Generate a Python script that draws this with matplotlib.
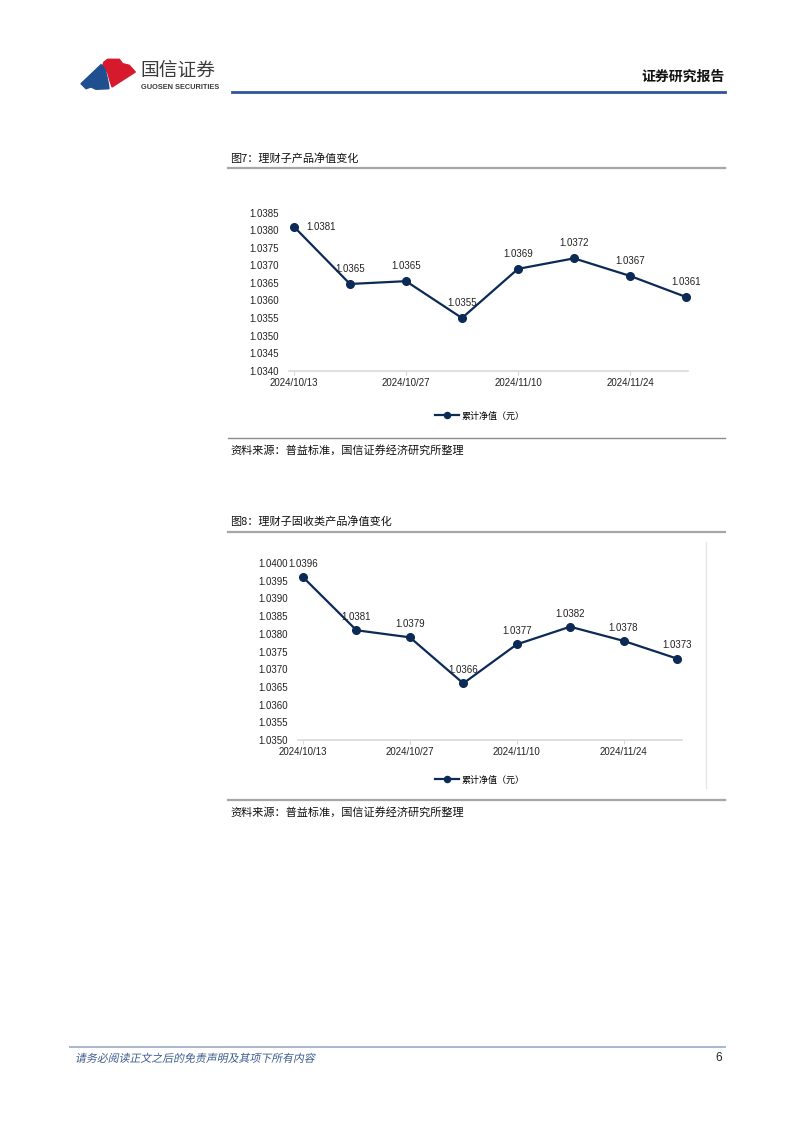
import matplotlib
matplotlib.use("Agg")
import matplotlib.pyplot as plt
from matplotlib.lines import Line2D
from matplotlib.patches import Polygon, PathPatch
from matplotlib.textpath import TextPath
from matplotlib.font_manager import FontProperties
from matplotlib.transforms import Affine2D

plt.rcParams['font.family'] = ['Liberation Sans', 'Noto Sans CJK SC', 'DejaVu Sans']

# data
dates = ["2024/10/13", "2024/10/20", "2024/10/27", "2024/11/03",
         "2024/11/10", "2024/11/17", "2024/11/24", "2024/12/01"]
nav_all = [1.0381, 1.03647, 1.03655, 1.0355, 1.0369, 1.0372, 1.0367, 1.0361]
nav_all_labels = ["1.0381", "1.0365", "1.0365", "1.0355", "1.0369", "1.0372", "1.0367", "1.0361"]
nav_fixed = [1.0396, 1.0381, 1.0379, 1.0366, 1.0377, 1.0382, 1.0378, 1.0373]
nav_fixed_labels = ["1.0396", "1.0381", "1.0379", "1.0366", "1.0377", "1.0382", "1.0378", "1.0373"]
series_name = "累计净值（元）"
title1 = "图7：理财子产品净值变化"
title2 = "图8：理财子固收类产品净值变化"
source = "资料来源：普益标准，国信证券经济研究所整理"
disclaimer = "请务必阅读正文之后的免责声明及其项下所有内容"

W, H = 802, 1133
LINE_COLOR = "#0c2a56"
CJK = ['Noto Sans CJK SC', 'DejaVu Sans']

fig = plt.figure(figsize=(W / 100, H / 100), dpi=100)


def px(x, y):
    # pixel coords (y down) -> figure fraction
    return x / W, 1 - y / H


def hline(x0, x1, y, color, lw):
    a, b = px(x0, y)
    c, _ = px(x1, y)
    fig.add_artist(Line2D([a, c], [b, b], color=color, lw=lw, transform=fig.transFigure))


def text(x, y, s, **kw):
    fx, fy = px(x, y)
    fig.text(fx, fy, s, **kw)


def draw_chart(box, xlim, ylim, yticks, values, labels, legend_y, first_right, label_off):
    x0, x1, ytop, ybot = box
    l, b = px(x0, ybot)
    r, t = px(x1, ytop)
    ax = fig.add_axes([l, b, r - l, t - b])
    xs = list(range(len(values)))
    ax.plot(xs, values, color=LINE_COLOR, lw=1.6, marker='o', markersize=5.5,
            label=series_name, clip_on=False, zorder=3)
    for i, (v, s) in enumerate(zip(values, labels)):
        if i == 0 and first_right:
            ax.annotate(s, (i, v), xytext=(9, 0), textcoords='offset points',
                        ha='left', va='center', fontsize=7, color='#222222')
        else:
            ax.annotate(s, (i, v), xytext=(0, label_off), textcoords='offset points',
                        ha='center', va='center', fontsize=7, color='#222222')
    ax.set_xlim(*xlim)
    ax.set_ylim(*ylim)
    ax.set_yticks(yticks)
    ax.set_yticklabels([f"{v:.4f}" for v in yticks])
    ax.set_xticks(xs[::2])
    ax.set_xticklabels(dates[::2])
    for side in ['top', 'right', 'left']:
        ax.spines[side].set_visible(False)
    ax.spines['bottom'].set_color('#d9d9d9')
    ax.spines['bottom'].set_linewidth(1.2)
    ax.tick_params(axis='y', length=0, pad=7, labelsize=7, labelcolor='#222222')
    ax.tick_params(axis='x', length=3, color='#d9d9d9', pad=2, labelsize=7, labelcolor='#222222')
    ax.patch.set_alpha(0)
    lx, ly = px(480, legend_y)
    ax.legend(loc='center', bbox_to_anchor=(lx, ly), bbox_transform=fig.transFigure,
              frameon=False, prop={'family': CJK, 'size': 6.5}, handlelength=2.6,
              handletextpad=0.3, markerscale=0.8)
    return ax


# header logo
red = [(104, 62), (107.7, 59.3), (119.3, 59.3), (122.7, 63.7), (129.3, 65.3), (135.3, 72),
       (112, 87), (109.8, 80.3), (108, 73.7), (105.5, 68.7), (102.7, 65.3)]
blue = [(81, 83.7), (101, 64.7), (103.5, 67), (105.3, 70.3), (107, 77), (108.3, 83.7),
        (109, 88.7), (96, 89.3), (91, 87), (86, 88.7)]
fig.add_artist(Polygon([px(*p) for p in red], closed=True, color='#d7192e', transform=fig.transFigure))
fig.add_artist(Polygon([px(*p) for p in blue], closed=True, color='#1f4f8f', transform=fig.transFigure))
text(140, 70, "国信证券", family=CJK, fontsize=13.5, color='#3a3a3a', va='center', ha='left')
text(141, 87.5, "GUOSEN SECURITIES", fontsize=5.3, color='#3a3a3a', va='center', ha='left',
     weight='bold')
text(725, 77, "证券研究报告", family=CJK, fontsize=10, weight='bold', color='#111111',
     ha='right', va='center')
hline(232, 725, 92, '#2f5597', 2.0)

# chart 1
text(230, 158, title1, family=CJK, fontsize=8, color='#111111', va='center', ha='left')
hline(228, 725, 168, '#a6a6a6', 1.6)
draw_chart((289, 688, 212.7, 370.7), (-0.089, 7.036), (1.0340, 1.0385),
           [1.0340 + 0.0005 * k for k in range(10)], nav_all, nav_all_labels,
           416, True, 11)
hline(228, 725, 438, '#8c8c8c', 1.0)
text(230, 450, source, family=CJK, fontsize=8, color='#111111', va='center', ha='left')

# chart 2
text(230, 521, title2, family=CJK, fontsize=8, color='#111111', va='center', ha='left')
hline(228, 725, 532, '#a6a6a6', 1.6)
fx, fy0 = px(706, 542)
_, fy1 = px(706, 788)
fig.add_artist(Line2D([fx, fx], [fy0, fy1], color='#e6e6e6', lw=1.0, transform=fig.transFigure))
draw_chart((298, 682, 563, 740), (-0.094, 7.094), (1.0350, 1.0400),
           [1.0350 + 0.0005 * k for k in range(11)], nav_fixed, nav_fixed_labels,
           780, False, 9.5)
hline(228, 725, 800, '#a6a6a6', 1.6)
text(230, 812, source, family=CJK, fontsize=8, color='#111111', va='center', ha='left')

# footer (slanted text, CJK font has no italic)
hline(70, 725, 1047, '#a8b8cc', 1.4)
tp = TextPath((0, 0), disclaimer, size=10.9, prop=FontProperties(family='Noto Sans CJK SC'))
slant = Affine2D().skew_deg(12, 0).translate(75, H - 1062)
fig.add_artist(PathPatch(tp, transform=slant, color='#3b5b8c', lw=0))
text(722, 1058, "6", fontsize=8.5, color='#222222', va='center', ha='right')

fig.savefig("out.png", dpi=100)
